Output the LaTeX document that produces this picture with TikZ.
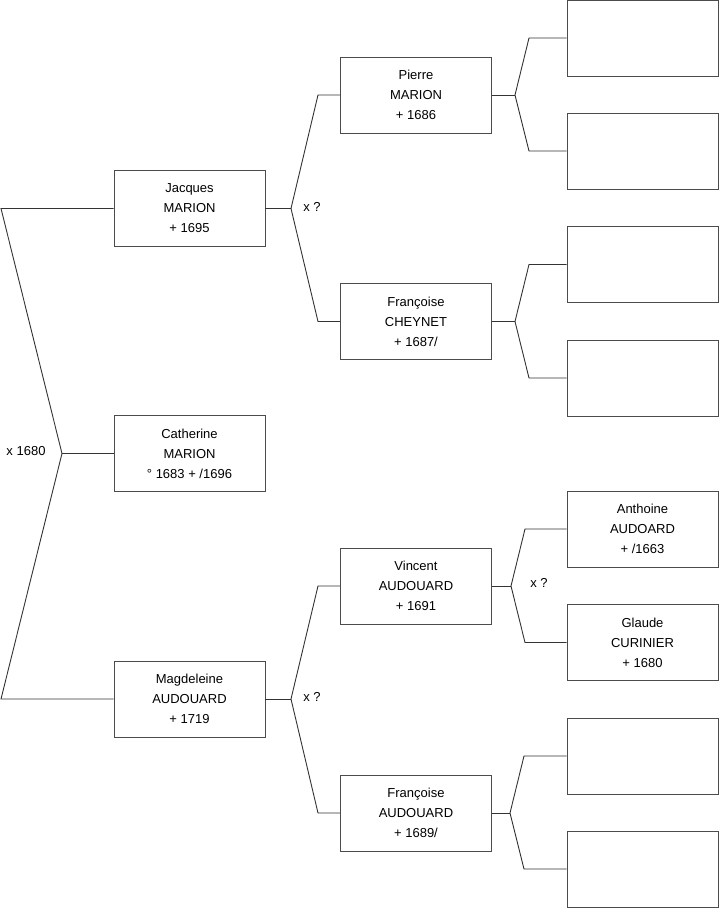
\documentclass[tikz,border=0pt]{standalone}
\usepackage{fontspec}
\setmainfont{Liberation Sans}
\tikzset{
  person/.style={draw=black!70, line width=0.9pt, minimum width=151pt, minimum height=76pt,
    align=center, font=\fontsize{13}{20}\selectfont, inner sep=0pt},
  link/.style={draw=black!80, line width=0.9pt},
  marr/.style={font=\fontsize{13}{16}\selectfont, inner sep=0pt}
}
\begin{document}
\begin{tikzpicture}[x=1pt,y=-1pt]
\useasboundingbox (0,0) rectangle (719,908);
% column 1
\node[person] (jacques) at (189.5,208.5) {Jacques\\MARION\\+ 1695};
\node[person] (catherine) at (189.5,453.5) {Catherine\\MARION\\° 1683 + /1696};
\node[person] (magdeleine) at (189.5,699) {Magdeleine\\AUDOUARD\\+ 1719};
% column 2
\node[person] (pierre) at (416,95) {Pierre\\MARION\\+ 1686};
\node[person] (fcheynet) at (416,321.5) {Françoise\\CHEYNET\\+ 1687/};
\node[person] (vincent) at (416,586) {Vincent\\AUDOUARD\\+ 1691};
\node[person] (faudouard) at (416,813) {Françoise\\AUDOUARD\\+ 1689/};
% column 3
\node[person] (c1) at (642.5,38) {};
\node[person] (c2) at (642.5,151) {};
\node[person] (c3) at (642.5,264.5) {};
\node[person] (c4) at (642.5,378) {};
\node[person] (anthoine) at (642.5,529) {Anthoine\\AUDOARD\\+ /1663};
\node[person] (glaude) at (642.5,642.5) {Glaude\\CURINIER\\+ 1680};
\node[person] (c7) at (642.5,756) {};
\node[person] (c8) at (642.5,869) {};
% left bracket
\coordinate (t0) at (1,208.5);
\coordinate (v0) at (62,453.5);
\coordinate (b0) at (1,699);
\draw[link] (jacques.west) -- (t0) -- (v0) -- (b0) -- (magdeleine.west);
\draw[link] (v0) -- (catherine.west);
\node[marr] (m0) at (26,451) {x 1680};
% Jacques
\coordinate (vj) at (291,208.5);
\coordinate (ja) at (318,95);
\coordinate (jb) at (318,321.5);
\draw[link] (jacques.east) -- (vj);
\draw[link] (pierre.west) -- (ja) -- (vj) -- (jb) -- (fcheynet.west);
\node[marr] (m1) at (312,207) {x ?};
% Magdeleine
\coordinate (vm) at (291,699);
\coordinate (ma) at (318,586);
\coordinate (mb) at (318,813);
\draw[link] (magdeleine.east) -- (vm);
\draw[link] (vincent.west) -- (ma) -- (vm) -- (mb) -- (faudouard.west);
\node[marr] (m2) at (312,697) {x ?};
% Pierre
\coordinate (vp) at (515,95);
\coordinate (pa) at (529,38);
\coordinate (pb) at (529,151);
\draw[link] (pierre.east) -- (vp);
\draw[link] (c1.west) -- (pa) -- (vp) -- (pb) -- (c2.west);
% Cheynet
\coordinate (vc) at (515,321.5);
\coordinate (ca) at (529,264.5);
\coordinate (cb) at (529,378);
\draw[link] (fcheynet.east) -- (vc);
\draw[link] (c3.west) -- (ca) -- (vc) -- (cb) -- (c4.west);
% Vincent
\coordinate (vv) at (511,586);
\coordinate (va) at (525,529);
\coordinate (vb) at (525,642.5);
\draw[link] (vincent.east) -- (vv);
\draw[link] (anthoine.west) -- (va) -- (vv) -- (vb) -- (glaude.west);
\node[marr] (m3) at (539,583) {x ?};
% Francoise Audouard
\coordinate (vf) at (510,813);
\coordinate (fa) at (524,756);
\coordinate (fb) at (524,869);
\draw[link] (faudouard.east) -- (vf);
\draw[link] (c7.west) -- (fa) -- (vf) -- (fb) -- (c8.west);
\end{tikzpicture}
\end{document}
